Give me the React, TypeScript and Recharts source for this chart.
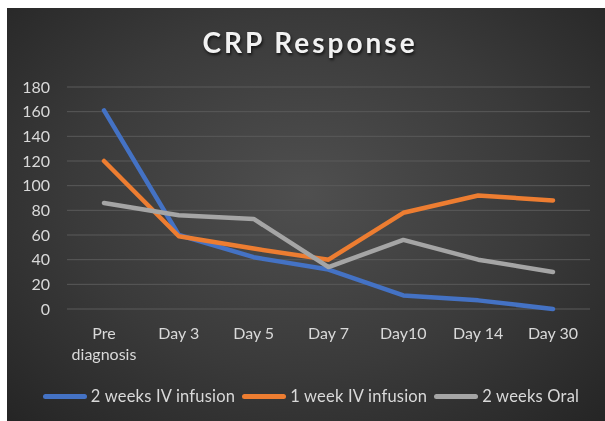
import { CartesianGrid, Legend, Line, LineChart, Text, XAxis, YAxis } from "recharts";

const categories = ["Pre diagnosis", "Day 3", "Day 5", "Day 7", "Day10", "Day 14", "Day 30"];
const ivTwoWeeks = [161, 60, 42, 32, 11, 7, 0];
const ivOneWeek = [120, 59, 49, 40, 78, 92, 88];
const oralTwoWeeks = [86, 76, 73, 34, 56, 40, 30];
const yTicks = [0, 20, 40, 60, 80, 100, 120, 140, 160, 180];

const series = [
  { key: "iv2", name: "2 weeks IV infusion", color: "#4472C4", values: ivTwoWeeks },
  { key: "iv1", name: "1 week IV infusion", color: "#ED7D31", values: ivOneWeek },
  { key: "oral2", name: "2 weeks Oral", color: "#A5A5A5", values: oralTwoWeeks },
];

const data = categories.map((day, i) => {
  const row: Record<string, string | number> = { day };
  series.forEach((s) => {
    row[s.key] = s.values[i];
  });
  return row;
});

const FONT = "Lato, 'Noto Sans', sans-serif";
const LABEL = "#d9d9d9";

const DayTick = (props: any) => {
  const { x, y, payload } = props;
  return (
    <Text
      x={x}
      y={y + 11}
      width={62}
      textAnchor="middle"
      verticalAnchor="start"
      lineHeight={21}
      fill={LABEL}
      fontSize={16}
      fontFamily={FONT}
    >
      {payload.value}
    </Text>
  );
};

const LegendBox = () => (
  <div
    style={{
      display: "flex",
      justifyContent: "center",
      alignItems: "center",
      height: 24,
      fontFamily: FONT,
      fontSize: 16.5,
      letterSpacing: 0.2,
      color: LABEL,
      paddingLeft: 32,
      whiteSpace: "nowrap",
    }}
  >
    {series.map((s) => (
      <div
        key={s.key}
        style={{ display: "flex", alignItems: "center", marginRight: 7, flexShrink: 0 }}
      >
        <span
          style={{
            display: "inline-block",
            width: 44,
            height: 5,
            borderRadius: 3,
            background: s.color,
            marginRight: 4,
          }}
        />
        <span>{s.name}</span>
      </div>
    ))}
  </div>
);

export default function App() {
  return (
    <div
      style={{
        position: "fixed",
        left: 7,
        top: 8,
        width: 598,
        height: 413,
        background:
          "radial-gradient(ellipse at 50% 45%, #4f4f4f 0%, #3a3a3a 55%, #252525 100%)",
      }}
    >
      <div
        style={{
          position: "absolute",
          top: 17,
          left: 4,
          width: 598,
          textAlign: "center",
          fontFamily: FONT,
          fontWeight: 700,
          fontSize: 28,
          letterSpacing: 3,
          color: "#f2f2f2",
          textShadow: "1px 2px 3px rgba(0,0,0,0.7)",
        }}
      >
        CRP Response
      </div>
      <LineChart
        width={598}
        height={413}
        data={data}
        margin={{ top: 79, right: 15, left: 0, bottom: 13 }}
      >
        <CartesianGrid vertical={false} stroke="#5a5a5a" />
        <XAxis
          dataKey="day"
          axisLine={false}
          tickLine={false}
          interval={0}
          height={75}
          padding={{ left: 37, right: 37 }}
          tick={<DayTick />}
        />
        <YAxis
          width={60}
          domain={[0, 180]}
          ticks={yTicks}
          axisLine={false}
          tickLine={false}
          tickMargin={11}
          tick={{ fill: LABEL, fontSize: 16, fontFamily: FONT }}
        />
        <Legend verticalAlign="bottom" content={<LegendBox />} />
        {series.map((s) => (
          <Line
            key={s.key}
            dataKey={s.key}
            name={s.name}
            stroke={s.color}
            strokeWidth={4.5}
            strokeLinecap="round"
            strokeLinejoin="round"
            dot={false}
            activeDot={false}
            isAnimationActive={false}
          />
        ))}
      </LineChart>
    </div>
  );
}
